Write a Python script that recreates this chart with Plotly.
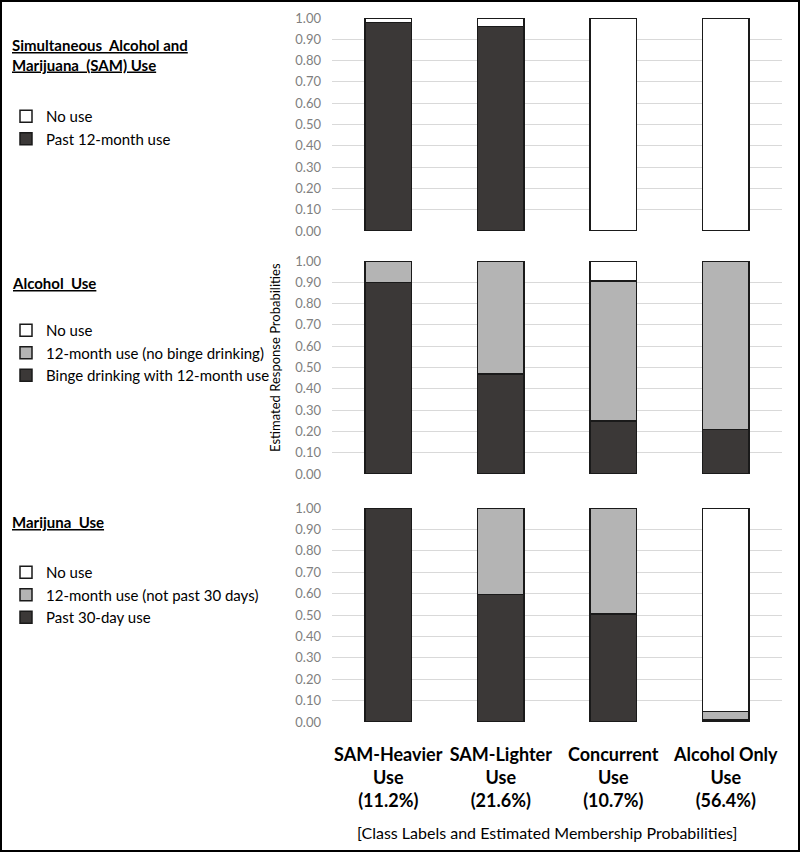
import plotly.graph_objects as go

classes = ["SAM-Heavier Use", "SAM-Lighter Use", "Concurrent Use", "Alcohol Only Use"]
class_ticks = ["SAM-Heavier<br>Use<br>(11.2%)", "SAM-Lighter<br>Use<br>(21.6%)",
               "Concurrent<br>Use<br>(10.7%)", "Alcohol Only<br>Use<br>(56.4%)"]

# Panel 1: Simultaneous Alcohol and Marijuana (SAM) Use
sam_past12 = [0.98, 0.96, 0.0, 0.0]
sam_nouse = [0.02, 0.04, 1.0, 1.0]

# Panel 2: Alcohol Use
alc_binge = [0.90, 0.47, 0.25, 0.21]
alc_12m = [0.10, 0.53, 0.655, 0.79]
alc_nouse = [0.0, 0.0, 0.095, 0.0]

# Panel 3: Marijuana Use
mj_past30 = [1.00, 0.595, 0.505, 0.01]
mj_12m = [0.0, 0.405, 0.495, 0.04]
mj_nouse = [0.0, 0.0, 0.0, 0.95]

DARK = "#3b3837"
GRAY = "#b4b4b4"
WHITE = "#ffffff"
EDGE = "#1a1a1a"
FONT = "Lato"

W, H = 800, 852
L, R = 332, 18
PW = W - L - R


def px_x(px):
    return (px - L) / PW


def py(px):
    return 1 - px / H


panels = [
    dict(top=18, bottom=231, legend="legend",
         series=[("Past 12-month use", sam_past12, DARK), ("No use", sam_nouse, WHITE)]),
    dict(top=261, bottom=474, legend="legend2",
         series=[("Binge drinking with 12-month use", alc_binge, DARK),
                 ("12-month use (no binge drinking)", alc_12m, GRAY),
                 ("No use", alc_nouse, WHITE)]),
    dict(top=508, bottom=722, legend="legend3",
         series=[("Past 30-day use", mj_past30, DARK),
                 ("12-month use (not past 30 days)", mj_12m, GRAY),
                 ("No use", mj_nouse, WHITE)]),
]

fig = go.Figure()
for i, p in enumerate(panels):
    ax = "" if i == 0 else str(i + 1)
    for name, vals, col in p["series"]:
        fig.add_trace(go.Bar(
            x=classes, y=[v if v > 0 else None for v in vals], name=name,
            marker=dict(color=col, line=dict(color=EDGE, width=1.5)),
            xaxis="x" + ax, yaxis="y" + ax, legend=p["legend"],
            hoverinfo="skip"))
    yax = dict(domain=[py(p["bottom"]), py(p["top"])], range=[0, 1.0],
               tickvals=[k / 10 for k in range(11)], tickformat=".2f",
               showgrid=True, gridcolor="#d9d9d9", gridwidth=1, zeroline=False,
               showline=False, ticks="", tickfont=dict(family=FONT, size=13, color="#7f7f7f"),
               ticklabelstandoff=10, automargin=False)
    xax = dict(domain=[0, 1], anchor="y" + ax, showline=False, ticks="",
               categoryorder="array", categoryarray=classes, automargin=False)
    if i < 2:
        xax["showticklabels"] = False
    else:
        xax.update(tickvals=classes, ticktext=class_ticks, tickangle=0,
                   tickfont=dict(family=FONT, size=18, color="#000000", weight="bold"),
                   ticks="outside", ticklen=16, tickcolor="rgba(0,0,0,0)")
    fig.update_layout(**{"yaxis" + ax: yax, "xaxis" + ax: xax})

legend_common = dict(bgcolor="rgba(0,0,0,0)", borderwidth=0, traceorder="reversed",
                     font=dict(family=FONT, size=15, color="#000000"),
                     xanchor="left", yanchor="top", itemclick=False, itemdoubleclick=False)
fig.update_layout(
    legend=dict(x=px_x(6), y=py(100), **legend_common),
    legend2=dict(x=px_x(6), y=py(314), **legend_common),
    legend3=dict(x=px_x(6), y=py(556), **legend_common),
)

title_font = dict(family=FONT, size=15, color="#000000")
annotations = [
    dict(text="<b><u>Simultaneous  Alcohol and</u></b><br><b><u>Marijuana  (SAM) Use</u></b>",
         x=px_x(10), y=py(34), align="left"),
    dict(text="<b><u>Alcohol  Use</u></b>", x=px_x(10), y=py(272), align="left"),
    dict(text="<b><u>Marijuna  Use</u></b>", x=px_x(10), y=py(511), align="left"),
]
for a in annotations:
    a.update(xref="paper", yref="paper", xanchor="left", yanchor="top",
             showarrow=False, font=title_font)

annotations.append(dict(text="Estimated Response Probabilities", textangle=-90,
                        x=px_x(275), y=py(358), xref="paper", yref="paper",
                        xanchor="center", yanchor="middle", showarrow=False,
                        font=dict(family=FONT, size=13, color="#000000")))
annotations.append(dict(text="[Class Labels and Estimated Membership Probabilities]",
                        x=px_x(547), y=py(832), xref="paper", yref="paper",
                        xanchor="center", yanchor="middle", showarrow=False,
                        font=dict(family=FONT, size=16, color="#000000")))

fig.update_layout(
    width=W, height=H, barmode="stack", bargap=0.59,
    margin=dict(l=L, r=R, t=0, b=0, autoexpand=False),
    paper_bgcolor="#ffffff", plot_bgcolor="#ffffff",
    annotations=annotations,
    shapes=[dict(type="rect", xref="paper", yref="paper",
                 x0=px_x(1), x1=px_x(W - 1), y0=py(H - 1), y1=py(1),
                 line=dict(color="#000000", width=2), fillcolor="rgba(0,0,0,0)")],
)

fig.write_html("out.html", config={"displayModeBar": False},
               post_script="document.body.style.margin='0';document.body.style.padding='0';")
